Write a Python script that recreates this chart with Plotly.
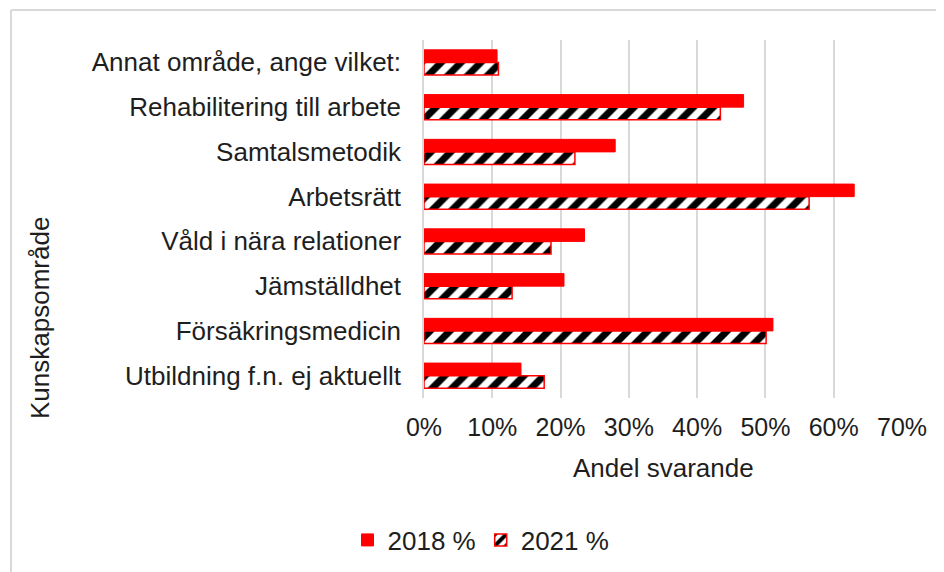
import plotly.graph_objects as go

categories = [
    "Annat område, ange vilket:",
    "Rehabilitering till arbete",
    "Samtalsmetodik",
    "Arbetsrätt",
    "Våld i nära relationer",
    "Jämställdhet",
    "Försäkringsmedicin",
    "Utbildning f.n. ej aktuellt",
]
values_2018 = [10.7, 46.8, 28.0, 63.0, 23.5, 20.5, 51.1, 14.2]
values_2021 = [10.9, 43.4, 22.1, 56.4, 18.6, 12.9, 50.1, 17.6]
tick_vals = [0, 10, 20, 30, 40, 50, 60, 70]
tick_text = ["0%", "10%", "20%", "30%", "40%", "50%", "60%", "70%"]

TXT = "#1e1e1e"
FONT = "Liberation Sans, Arial, sans-serif"

fig = go.Figure()
fig.add_trace(go.Bar(
    name="2018 %", y=categories, x=values_2018, orientation="h",
    marker=dict(color="#ff0000", line=dict(color="#ff0000", width=1)),
))
fig.add_trace(go.Bar(
    name="2021 %", y=categories, x=values_2021, orientation="h",
    marker=dict(color="white", line=dict(color="#ff0000", width=1.5),
                pattern=dict(shape="/", fgcolor="#000000", bgcolor="white",
                             fgopacity=1, size=14, solidity=0.5)),
))

# page body has an 8px margin; figure is sized/placed to compensate
OFF = 8
PL, PR, PT, PB = 424, 902, 40, 398  # plot area in screen px
FW, FH = 944 - OFF, 572 - OFF
W, H = PR - PL, PB - PT

def px(x):
    return (x - PL) / W

def py(y):
    return (PB - y) / H

fig.update_layout(
    width=FW, height=FH,
    margin=dict(l=PL - OFF, r=944 - PR, t=PT - OFF, b=572 - PB, autoexpand=False),
    paper_bgcolor="white", plot_bgcolor="white",
    barmode="group", bargap=0.44, bargroupgap=0.0,
    font=dict(family=FONT, size=26, color=TXT),
    showlegend=True,
    legend=dict(orientation="h", x=px(481), y=py(540), xanchor="center", yanchor="middle",
                font=dict(size=26, color=TXT), itemwidth=30, tracegroupgap=0),
    xaxis=dict(range=[0, 70], tickvals=tick_vals, ticktext=tick_text,
               showgrid=True, gridcolor="#d9d9d9", gridwidth=1.5,
               zeroline=False, showline=False, ticks="", ticklabelstandoff=12,
               tickfont=dict(size=25, color=TXT), fixedrange=True),
    yaxis=dict(autorange="reversed", showgrid=False, zeroline=False,
               showline=True, linecolor="#d9d9d9", linewidth=1.5,
               ticks="", ticklabelstandoff=16,
               tickfont=dict(size=26, color=TXT)),
    annotations=[
        dict(text="Andel svarande", x=px(663), y=py(468), xref="paper", yref="paper",
             showarrow=False, xanchor="center", yanchor="middle",
             font=dict(size=26, color=TXT)),
        dict(text="Kunskapsområde", x=px(40), y=py(318), xref="paper", yref="paper",
             showarrow=False, xanchor="center", yanchor="middle", textangle=-90,
             font=dict(size=26, color=TXT)),
    ],
    shapes=[
        dict(type="line", xref="paper", yref="paper",
             x0=px(11), x1=px(11), y0=py(10), y1=py(600),
             line=dict(color="#d9d9d9", width=2)),
        dict(type="line", xref="paper", yref="paper",
             x0=px(11), x1=px(960), y0=py(10), y1=py(10),
             line=dict(color="#d9d9d9", width=2)),
    ],
)

fig.write_html("out.html")
